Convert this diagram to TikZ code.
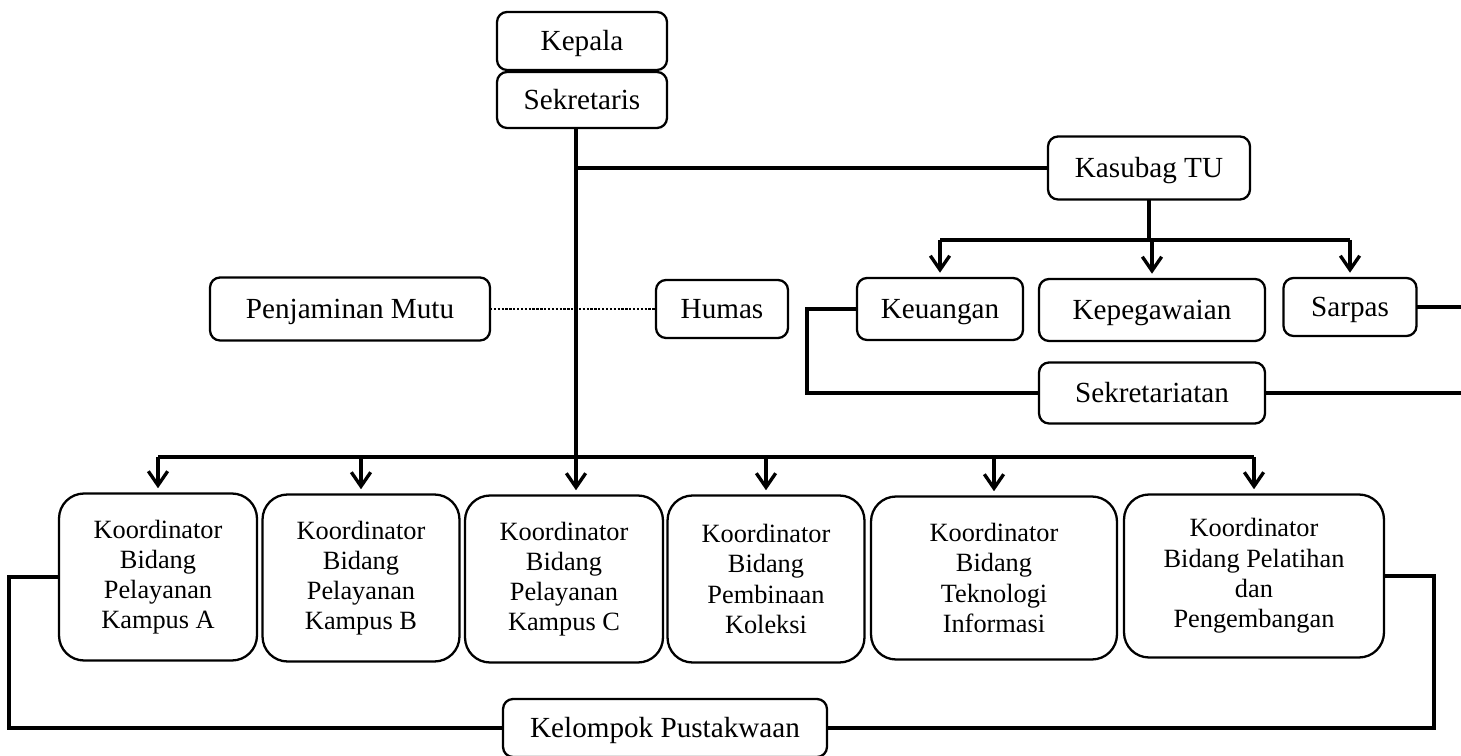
\documentclass[tikz,border=0pt]{standalone}
\usepackage{fontspec}
\setmainfont{Liberation Serif}
\usetikzlibrary{arrows.meta}

\begin{document}
\begin{tikzpicture}[x=0.02cm, y=-0.02cm,
        unitbox/.style={draw, line width=1.3pt, rounded corners=0.2cm, inner sep=0pt, outer sep=0pt, text height=11pt, text depth=0pt, font=\fontsize{16.6}{19}\selectfont},
        koordbox/.style={draw, line width=1.3pt, rounded corners=0.5cm, inner sep=0pt, outer sep=0pt, align=center, minimum height=3.34cm, font=\fontsize{15}{17.2}\selectfont},
        link/.style={line width=1.9pt},
        arr/.style={line width=1.9pt, -{Straight Barb[length=8pt, width=11pt]}, shorten >=3pt}]
        \useasboundingbox (0,0) rectangle (1461,756);

        % Pimpinan
        \node[unitbox, minimum width=3.4cm, minimum height=1.16cm] (kepala) at (582,41) {Kepala};
        \node[unitbox, minimum width=3.4cm, minimum height=1.12cm] (sekretaris) at (582,100) {Sekretaris};
        \node[unitbox, minimum width=4.04cm, minimum height=1.26cm] (kasubag) at (1149,168) {Kasubag TU};

        % Unit Staf
        \node[unitbox, minimum width=5.6cm, minimum height=1.26cm] (mutu) at (350,309) {Penjaminan Mutu};
        \node[unitbox, minimum width=2.64cm, minimum height=1.16cm] (humas) at (722,309) {Humas};
        \node[unitbox, minimum width=3.32cm, minimum height=1.24cm] (keuangan) at (940,309) {Keuangan};
        \node[unitbox, minimum width=4.52cm, minimum height=1.24cm] (pegawai) at (1152,310) {Kepegawaian};
        \node[unitbox, minimum width=2.66cm, minimum height=1.16cm] (sarpas) at (1350,307) {Sarpas};
        \node[unitbox, minimum width=4.52cm, minimum height=1.22cm] (sekretariat) at (1152,393) {Sekretariatan};

        % Koordinator Bidang
        \node[koordbox, minimum width=3.96cm] (kA) at (158,577) {Koordinator\\Bidang\\Pelayanan\\Kampus A};
        \node[koordbox, minimum width=3.94cm] (kB) at (361,578) {Koordinator\\Bidang\\Pelayanan\\Kampus B};
        \node[koordbox, minimum width=3.96cm] (kC) at (564,579) {Koordinator\\Bidang\\Pelayanan\\Kampus C};
        \node[koordbox, minimum width=3.94cm] (kD) at (766,579) {Koordinator\\Bidang\\Pembinaan\\Koleksi};
        \node[koordbox, minimum width=4.92cm, minimum height=3.26cm] (kE) at (994,578) {Koordinator\\Bidang\\Teknologi\\Informasi};
        \node[koordbox, minimum width=5.2cm, minimum height=3.26cm] (kF) at (1254,576) {Koordinator\\Bidang Pelatihan\\dan\\Pengembangan};
        \node[unitbox, minimum width=6.48cm, minimum height=1.16cm] (pustakawan) at (665,728) {Kelompok Pustakwaan};

        % Titik bantu
        \coordinate (trunk) at (576,0);
        \coordinate (tubus) at (0,240);
        \coordinate (bus) at (0,457);
        \coordinate (tepi) at (1466,0);

        % Connections
        \draw[arr] (trunk |- sekretaris.south) -- (trunk |- kC.north);
        \draw[link] (trunk |- kasubag.west) -- (kasubag.west);
        \draw[line width=1.7pt, dash pattern=on 1.3pt off 0.9pt] (mutu.east) -- (humas.west);

        \draw[link] (kasubag.south) -- (kasubag.south |- tubus);
        \draw[link] (keuangan.north |- tubus) -- (sarpas.north |- tubus);
        \foreach \n in {keuangan, pegawai, sarpas}
            \draw[arr] (\n.north |- tubus) -- (\n.north);

        \draw[link] (keuangan.west) -- ++(-50,0) |- (sekretariat.west);
        \draw[link] (sarpas.east) -| (tepi |- sekretariat.east) -- (sekretariat.east);

        \draw[link] (kA.north |- bus) -- (kF.north |- bus);
        \foreach \n in {kA, kB, kD, kE, kF}
            \draw[arr] (\n.north |- bus) -- (\n.north);

        \draw[link] (kA.west) -- ++(-50,0) |- (pustakawan.west);
        \draw[link] (kF.east) -- ++(50,0) |- (pustakawan.east);
    \end{tikzpicture}
\end{document}
